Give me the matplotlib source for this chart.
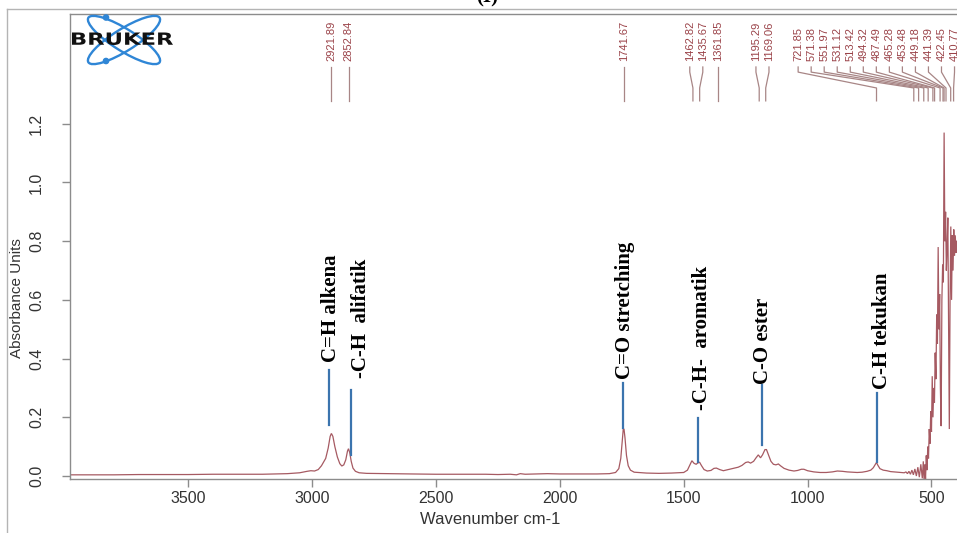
import matplotlib
matplotlib.use("Agg")
import matplotlib.pyplot as plt
from matplotlib.patches import Ellipse, PathPatch, Circle
from matplotlib.textpath import TextPath
from matplotlib.font_manager import FontProperties
from matplotlib.transforms import Affine2D
from matplotlib.lines import Line2D

# ---------------- data ----------------
wavenumber = [3976, 3900, 3800, 3700, 3600, 3500, 3400, 3300, 3200, 3100, 3050, 3020,
              3005, 2990, 2975, 2962, 2955, 2945, 2935, 2927, 2922, 2916, 2908, 2898,
              2888, 2880, 2872, 2864, 2857, 2853, 2848, 2842, 2835, 2825, 2810, 2780,
              2700, 2600, 2500, 2400, 2300, 2250, 2200, 2175, 2160, 2140, 2100, 2050,
              2000, 1950, 1900, 1850, 1800, 1775, 1762, 1754, 1748, 1744, 1741, 1737,
              1731, 1724, 1715, 1700, 1650, 1600, 1550, 1500, 1485, 1475, 1467, 1458,
              1450, 1442, 1436, 1428, 1418, 1405, 1390, 1378, 1368, 1355, 1340, 1320,
              1300, 1280, 1265, 1250, 1240, 1230, 1218, 1208, 1199, 1190, 1182, 1172,
              1166, 1158, 1148, 1138, 1128, 1118, 1108, 1095, 1075, 1055, 1040, 1025,
              1015, 1000, 975, 950, 925, 900, 880, 860, 840, 820, 800, 780, 760, 745,
              735, 728, 722, 716, 708, 695, 680, 665, 650, 635, 620, 610, 603, 597,
              591, 585, 579, 573, 567, 561, 555, 549, 543, 537, 533, 530, 527, 524,
              521, 518, 515, 512, 509, 506, 503, 500, 497, 494, 491, 488, 485, 482,
              479, 476, 473, 470, 467, 464, 461, 458, 455, 452, 449, 446, 443, 440,
              437, 434, 431, 428, 425, 422, 419, 416, 413, 410, 407, 404, 401, 398]
absorbance = [0.004, 0.004, 0.004, 0.005, 0.005, 0.005, 0.006, 0.006, 0.006, 0.008, 0.011, 0.016,
              0.018, 0.017, 0.022, 0.035, 0.045, 0.060, 0.095, 0.135, 0.145, 0.135, 0.100, 0.065,
              0.042, 0.034, 0.038, 0.055, 0.085, 0.093, 0.080, 0.050, 0.027, 0.016, 0.011, 0.009,
              0.008, 0.007, 0.006, 0.006, 0.006, 0.005, 0.006, 0.004, 0.008, 0.006, 0.007, 0.008,
              0.007, 0.007, 0.007, 0.007, 0.008, 0.012, 0.025, 0.060, 0.120, 0.160, 0.160, 0.130,
              0.070, 0.035, 0.020, 0.013, 0.010, 0.009, 0.010, 0.012, 0.020, 0.038, 0.052, 0.043,
              0.040, 0.045, 0.047, 0.035, 0.022, 0.017, 0.019, 0.026, 0.027, 0.022, 0.018, 0.022,
              0.026, 0.030, 0.036, 0.046, 0.048, 0.044, 0.050, 0.062, 0.072, 0.062, 0.072, 0.090,
              0.090, 0.072, 0.050, 0.040, 0.038, 0.041, 0.034, 0.026, 0.020, 0.017, 0.019, 0.023,
              0.023, 0.018, 0.014, 0.012, 0.012, 0.014, 0.017, 0.016, 0.014, 0.013, 0.012, 0.013, 0.016, 0.020,
              0.028, 0.038, 0.046, 0.036, 0.025, 0.020, 0.018, 0.015, 0.014, 0.013, 0.012, 0.011, 0.014, 0.008,
              0.016, 0.006, 0.020, 0.004, 0.024, 0.000, 0.030, -0.004, 0.040, -0.008, 0.050, -0.012, 0.040, -0.010,
              0.070, 0.020, 0.100, 0.060, 0.160, 0.110, 0.220, 0.150, 0.340, 0.200, 0.300, 0.250, 0.420, 0.330,
              0.550, 0.450, 0.780, 0.500, 0.620, 0.300, 0.170, 0.600, 0.720, 0.660, 1.170, 0.800, 0.900, 0.700,
              0.780, 0.880, 0.500, 0.160, 0.600, 0.850, 0.600, 0.820, 0.700, 0.840, 0.750, 0.820, 0.760, 0.800]

peak_positions = [2921.89, 2852.84, 1741.67, 1462.82, 1435.67, 1361.85, 1195.29, 1169.06,
                  721.85, 571.38, 551.97, 531.12, 513.42, 494.32, 487.49, 465.28, 453.48,
                  449.18, 441.39, 422.45, 410.77]

band_names = ["C=H alkena", "-C-H  alifatik", "C=O stretching", "-C-H-  aromatik",
              "C-O ester", "C-H tekukan"]
band_line_x = [2931, 2844, 1744, 1442, 1185, 721.6]
band_line_top = [0.362, 0.292, 0.317, 0.198, 0.310, 0.283]
band_line_bottom = [0.174, 0.070, 0.163, 0.048, 0.105, 0.048]
band_text_x = [2923, 2802, 1737, 1426, 1180, 700]
band_text_y = [0.388, 0.334, 0.330, 0.225, 0.313, 0.296]

x_ticks = [3500, 3000, 2500, 2000, 1500, 1000, 500]
y_ticks = [0.0, 0.2, 0.4, 0.6, 0.8, 1.0, 1.2]
x_label = "Wavenumber cm-1"
y_label = "Absorbance Units"
title = "(I)"

# ---------------- styling ----------------
W, H = 957, 533
spec_color = "#a65a62"
label_color = "#9a4248"
label_line_color = "#a88686"
blue = "#3b74ae"
axis_color = "#8c8c8c"

fig = plt.figure(figsize=(W / 100, H / 100), dpi=100)
ax = fig.add_axes([70 / W, 54 / H, 887 / W, 465 / H])
ax.set_xlim(3977, 397)
ax.set_ylim(-0.0102, 1.574)

ax.plot(wavenumber, absorbance, color=spec_color, lw=0.9, solid_joinstyle="miter")

for s in ["left", "bottom", "top"]:
    ax.spines[s].set_color(axis_color)
    ax.spines[s].set_linewidth(1.0)
ax.spines["right"].set_visible(False)

ax.set_xticks(x_ticks)
ax.set_xticklabels([str(t) for t in x_ticks])
ax.set_yticks(y_ticks)
ax.set_yticklabels([f"{t:.1f}" for t in y_ticks])
ax.tick_params(axis="both", direction="out", length=5.8, width=1.0, color=axis_color,
               labelsize=11.5, labelcolor="#333333")
ax.tick_params(axis="x", pad=3)
ax.tick_params(axis="y", pad=13, labelrotation=90)
for lab in ax.get_yticklabels():
    lab.set_va("center")
for lab in ax.get_xticklabels() + ax.get_yticklabels():
    lab.set_family("Liberation Sans")

ax.set_xlabel(x_label, fontsize=12, family="Liberation Sans", color="#333333")
ax.xaxis.set_label_coords(0.4735, -0.072)
ax.set_ylabel(y_label, fontsize=11, family="Liberation Sans", color="#333333")
ax.yaxis.set_label_coords(-0.052, 0.389)

# ---------------- peak labels on top ----------------
def spread(pos, d, lo):
    clusters = [[p] for p in sorted(pos, reverse=True)]

    def place(cl):
        n = len(cl)
        c = sum(cl) / n
        first = c + d * (n - 1) / 2
        last = first - d * (n - 1)
        if last < lo:
            first += lo - last
        return [first - d * i for i in range(n)]

    changed = True
    while changed:
        changed = False
        for i in range(len(clusters) - 1):
            a = place(clusters[i])
            b = place(clusters[i + 1])
            if a[-1] - b[0] < d:
                clusters[i] = clusters[i] + clusters[i + 1]
                del clusters[i + 1]
                changed = True
                break
    out = []
    for cl in clusters:
        out += place(cl)
    return out

sorted_peaks = sorted(peak_positions, reverse=True)
label_x = spread(sorted_peaks, 52.6, 407)
y_text, y_k0, y_k1, y_k2, y_k3 = 1.414, 1.3935, 1.376, 1.322, 1.278
for p, lx in zip(sorted_peaks, label_x):
    ax.text(lx, y_text, f"{p:.2f}", rotation=90, ha="center", va="bottom", fontsize=8,
            color=label_color, family="Liberation Sans")
    ax.plot([lx, lx, p, p], [y_k0, y_k1, y_k2, y_k3], color=label_line_color, lw=0.9)

# ---------------- band annotations ----------------
for name, lx, yt, yb, tx, ty in zip(band_names, band_line_x, band_line_top, band_line_bottom,
                                    band_text_x, band_text_y):
    ax.plot([lx, lx], [yb, yt], color=blue, lw=1.6)
    ax.text(tx, ty, name, rotation=90, ha="center", va="bottom", fontsize=15,
            fontweight="bold", family="Liberation Serif", color="black")

# ---------------- logo ----------------
lax = fig.add_axes([70 / W, 1 - 66 / H, 106 / W, 52 / H])
lax.set_xlim(0, 106)
lax.set_ylim(52, 0)
lax.axis("off")
logo_blue = "#2f86d6"
for ang in (32, -32):
    lax.add_patch(Ellipse((54, 26), 84, 22, angle=ang, fill=False, ec=logo_blue, lw=1.7))
lax.add_patch(Circle((36, 3.5), 2.6, color=logo_blue))
lax.add_patch(Circle((36, 47), 2.6, color=logo_blue))
tp = TextPath((0, 0), "BRUKER", size=1, prop=FontProperties(family="DejaVu Sans", weight="bold"))
ext = tp.get_extents()
tr = Affine2D().translate(-ext.x0, -ext.y0).scale(101 / ext.width, -12.5 / ext.height).translate(2, 31)
lax.add_patch(PathPatch(tr.transform_path(tp), fc="#111111", ec="none"))

# ---------------- frame and title ----------------
fig.add_artist(Line2D([7 / W, 7 / W], [0, 1 - 9 / H], transform=fig.transFigure, color="#b4b4b4", lw=1))
fig.add_artist(Line2D([7 / W, 1], [1 - 9 / H, 1 - 9 / H], transform=fig.transFigure, color="#b4b4b4", lw=1))
fig.text(487 / W, 1 - 7 / H, title, ha="center", va="bottom", fontsize=15, fontweight="bold",
         family="Liberation Serif")

fig.savefig("out.png", dpi=100)
